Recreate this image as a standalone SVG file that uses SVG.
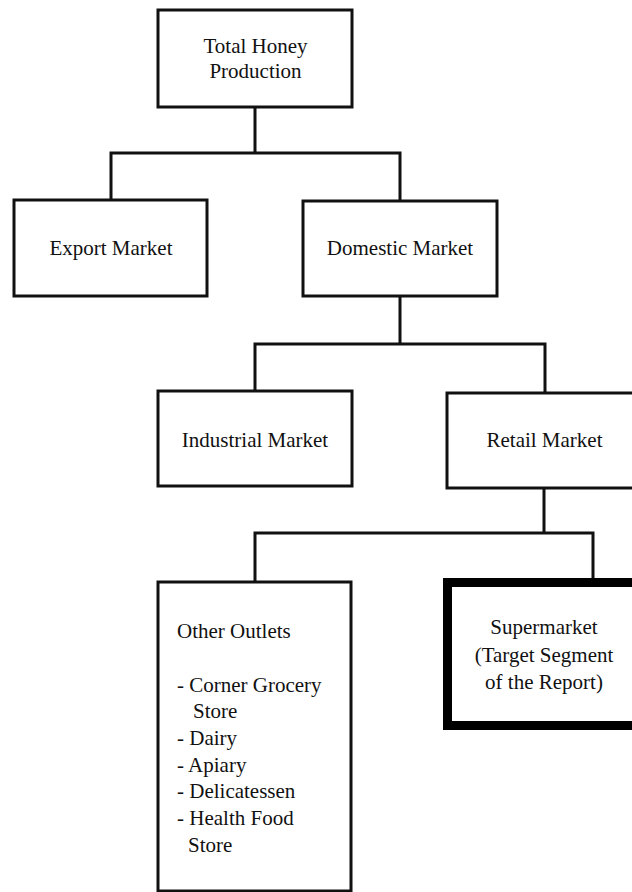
<svg xmlns="http://www.w3.org/2000/svg" width="632" height="892" viewBox="0 0 632 892">
<style>
.box{fill:#fff;stroke:#111;stroke-width:3}
.thick{fill:#fff;stroke:#000;stroke-width:9}
.conn{fill:none;stroke:#111;stroke-width:3;stroke-linejoin:miter;stroke-linecap:square}
text{font-family:"Liberation Serif","Times New Roman",serif;font-size:21px;fill:#111}
.c{text-anchor:middle}
</style>
<rect width="632" height="892" fill="#fff"/>
<g id="connectors">
<path class="conn" d="M255 107 V153 M111 200 V153 H400 V200"/>
<path class="conn" d="M400 296 V344 M255 391 V344 H545 V391"/>
<path class="conn" d="M544 488 V533 M255 582 V533 H593 V578"/>
</g>
<g id="total">
<rect class="box" x="158" y="10" width="194" height="97"/>
<text class="c" x="255.5" y="53">Total Honey</text>
<text class="c" x="255.5" y="78">Production</text>
</g>
<g id="export">
<rect class="box" x="14" y="200" width="193" height="96"/>
<text class="c" x="111" y="255">Export Market</text>
</g>
<g id="domestic">
<rect class="box" x="303" y="201" width="194" height="95"/>
<text class="c" x="400" y="255">Domestic Market</text>
</g>
<g id="industrial">
<rect class="box" x="158" y="391" width="194" height="95"/>
<text class="c" x="255" y="447">Industrial Market</text>
</g>
<g id="retail">
<rect class="box" x="447" y="393" width="194" height="95"/>
<text class="c" x="544.5" y="447">Retail Market</text>
</g>
<g id="other">
<rect class="box" x="158" y="582" width="193" height="309"/>
<text x="177" y="638">Other Outlets</text>
<text x="177" y="692">- Corner Grocery</text>
<text x="193" y="718">Store</text>
<text x="177" y="745">- Dairy</text>
<text x="177" y="772">- Apiary</text>
<text x="177" y="798">- Delicatessen</text>
<text x="177" y="825">- Health Food</text>
<text x="188" y="852">Store</text>
</g>
<g id="supermarket">
<rect class="thick" x="447.5" y="582.5" width="194" height="143"/>
<text class="c" x="544" y="634">Supermarket</text>
<text class="c" x="544" y="662">(Target Segment</text>
<text class="c" x="544" y="689">of the Report)</text>
</g>
</svg>
